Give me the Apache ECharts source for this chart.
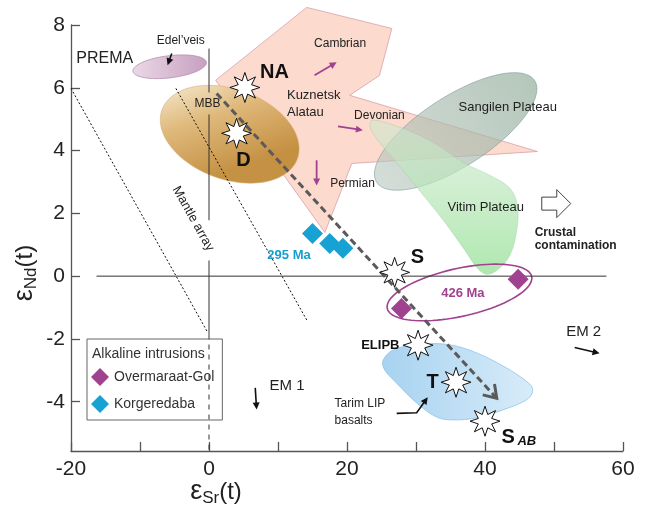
<!DOCTYPE html>
<html><head><meta charset="utf-8">
<script src="https://cdn.jsdelivr.net/npm/echarts@6/dist/echarts.min.js"></script>
<style>html,body{margin:0;padding:0;background:#fff}#c{width:648px;height:515px}</style>
</head><body><div id="c"></div>
<script>
// ---------- data ----------
const xTickValues = [-20, -10, 0, 10, 20, 30, 40, 50, 60];
const xLabelValues = [-20, 0, 20, 40, 60];
const yTickValues = [-4, -2, 0, 2, 4, 6, 8];

const overmaraatGol = [[27.9, -1.03], [44.8, -0.10]];
const korgeredaba = [[15.0, 1.36], [17.5, 1.04], [19.4, 0.89]];

// NA, D, S, ELIPB, T, S_AB
const starPoints = [[5.2, 6.01], [4.0, 4.55], [26.9, 0.12], [30.3, -2.20], [35.8, -3.38], [40.0, -4.62]];

const kuznetskAlatau = [[0.97, 6.24], [14.16, 8.56], [26.5, 7.89], [24.7, 6.39], [20.4, 5.76], [47.6, 3.97], [20.7, 3.59], [16.8, 1.39]];
const vitimPlateau = [[23.6, 4.96], [26.9, 4.80], [32.0, 4.32], [37.1, 3.59], [40.7, 3.21], [43.6, 2.80], [44.7, 2.26], [44.6, 1.46], [43.6, 0.66], [41.7, 0.18], [40.2, 0.06], [38.9, 0.25], [37.1, 0.82], [34.2, 1.71], [30.5, 2.73], [26.9, 3.69], [24.5, 4.32], [23.4, 4.71]];
const tarimLIP = [[25.2, -2.70], [26.6, -2.36], [29.5, -2.20], [33.9, -2.16], [37.8, -2.36], [42.6, -2.86], [46.5, -3.44], [46.9, -3.68], [46.0, -3.94], [42.6, -4.26], [38.8, -4.51], [35.3, -4.58], [33.0, -4.49], [30.1, -4.04], [27.2, -3.41], [25.5, -3.00]];

// ellipses: centre x, y, half-major vector, half-minor vector (data units)
const mbbEllipse = [3.0, 4.52, 9.81, -0.78, -2.23, -1.35];
const edelveisEllipse = [-5.7, 6.67, 5.32, 0.143, 0.19, -0.35];
const sangilenEllipse = [35.75, 4.61, 11.45, 1.62, 2.75, -0.94];
const ma426Ellipse = [36.3, -0.52, 10.46, 0.51, 0.75, -0.745];

const zeroLineH = [[-16.3, 0], [57.6, 0]];
const zeroLineV1 = [[0, 7.25], [0, 5.85]];
const zeroLineV2 = [[0, 5.15], [0, 1.78]];
const zeroLineV3 = [[0, 0.5], [0, -1.86]];
const zeroLineVDashed = [[0, -1.86], [0, -5.57]];
const mantleLine1 = [[-20, 5.98], [-0.2, -1.79]];
const mantleLine2 = [[-4.8, 5.98], [14.2, -1.41]];
const trendArrow = [[[1.1, 5.82], [41.7, -3.89]]];

const purpleArrows = [[[15.3, 6.4], [18.5, 6.81]], [[18.7, 4.77], [22.3, 4.65]], [[15.6, 3.69], [15.6, 2.89]]];
const blackArrows = [[[6.7, -3.56], [6.9, -4.25]], [[53.0, -2.27], [56.6, -2.46]], [[-5.4, 7.09], [-6.0, 6.72]], [[27.2, -4.37], [30.1, -4.35], [31.7, -3.86]]];
const crustalArrow = [[50.4, 2.31]];

// labels: x, y, text, style key
const labels = [
  [-15.1, 6.94, 'PREMA', 'prema'],
  [-4.1, 7.51, 'Edel\u2019veis', 'small'],
  [-0.2, 5.50, 'MBB', 'small'],
  [9.5, 6.49, 'NA', 'bigBold'],
  [5.0, 3.69, 'D', 'bigBold'],
  [11.3, 5.76, 'Kuznetsk', 'midLeft'],
  [11.3, 5.22, 'Alatau', 'midLeft'],
  [19.0, 7.41, 'Cambrian', 'small'],
  [24.7, 5.12, 'Devonian', 'small'],
  [20.8, 2.96, 'Permian', 'small'],
  [43.3, 5.38, 'Sangilen Plateau', 'mid'],
  [40.1, 2.19, 'Vitim Plateau', 'mid'],
  [47.2, 1.40, 'Crustal', 'boldLeft'],
  [47.2, 0.98, 'contamination', 'boldLeft'],
  [11.6, 0.66, '295 Ma', 'cyan'],
  [30.2, 0.60, 'S', 'bigBold'],
  [36.8, -0.55, '426 Ma', 'purple'],
  [27.6, -2.20, 'ELIPB', 'boldRight'],
  [32.4, -3.38, 'T', 'bigBold'],
  [18.2, -4.06, 'Tarim LIP', 'smallLeft'],
  [18.2, -4.60, 'basalts', 'smallLeft'],
  [42.4, -5.13, 'S', 'bigBoldLeft'],
  [44.7, -5.28, 'AB', 'subLeft'],
  [54.3, -1.79, 'EM 2', 'em'],
  [11.3, -3.48, 'EM 1', 'em'],
  [-2.3, 1.83, 'Mantle array', 'mantle']
];

// ---------- styles ----------
const FONT = 'Arial, "Liberation Sans", Helvetica, sans-serif';
const labelStyles = {
  prema: {fontSize: 16, color: '#222'},
  small: {fontSize: 12, color: '#222'},
  smallLeft: {fontSize: 12, color: '#222', align: 'left'},
  mid: {fontSize: 13, color: '#222'},
  midLeft: {fontSize: 13, color: '#222', align: 'left'},
  bigBold: {fontSize: 20, color: '#111', fontWeight: 'bold'},
  bigBoldLeft: {fontSize: 20, color: '#111', fontWeight: 'bold', align: 'left'},
  subLeft: {fontSize: 13, color: '#111', fontWeight: 'bold', fontStyle: 'italic', align: 'left'},
  boldLeft: {fontSize: 12, color: '#222', fontWeight: 'bold', align: 'left'},
  boldRight: {fontSize: 13, color: '#111', fontWeight: 'bold', align: 'right'},
  cyan: {fontSize: 13, color: '#139fd2', fontWeight: 'bold'},
  purple: {fontSize: 13, color: '#a0428f', fontWeight: 'bold'},
  em: {fontSize: 15, color: '#222'},
  mantle: {fontSize: 13, color: '#222', rotation: -1.06}
};

function starPath() {
  let d = '';
  for (let i = 0; i < 16; i++) {
    const a = -Math.PI / 2 + i * Math.PI / 8;
    const r = i % 2 === 0 ? 50 : 24;
    const x = (50 + r * Math.cos(a)).toFixed(2), y = (50 + r * Math.sin(a)).toFixed(2);
    d += (i === 0 ? 'M' : 'L') + x + ' ' + y + ' ';
  }
  return 'path://' + d + 'Z';
}

function polygonSeries(points, style, smooth, z) {
  return {
    type: 'custom', silent: true, z: z, clip: false, data: [points[0]],
    renderItem: (params, api) => ({
      type: 'polygon',
      shape: {points: points.map(p => api.coord(p)), smooth: smooth},
      style: style
    })
  };
}

function ellipseSeries(e, style, z) {
  return {
    type: 'custom', silent: true, z: z, clip: false, data: [[e[0], e[1]]],
    renderItem: (params, api) => {
      const pts = [];
      for (let i = 0; i < 90; i++) {
        const t = i / 90 * Math.PI * 2;
        pts.push(api.coord([e[0] + e[2] * Math.cos(t) + e[4] * Math.sin(t), e[1] + e[3] * Math.cos(t) + e[5] * Math.sin(t)]));
      }
      return {type: 'polygon', shape: {points: pts}, style: style};
    }
  };
}

function lineSeries(data, style, z) {
  return {type: 'line', data: data, symbol: 'none', silent: true, z: z, lineStyle: style, animation: false};
}

function arrowSeries(list, opts, z) {
  return {
    type: 'custom', silent: true, z: z, clip: false, data: list.map(l => l[0]),
    renderItem: (params, api) => {
      const pts = list[params.dataIndex].map(p => api.coord(p));
      const n = pts.length, a = pts[n - 2], b = pts[n - 1];
      const dx = b[0] - a[0], dy = b[1] - a[1], L = Math.hypot(dx, dy);
      const ux = dx / L, uy = dy / L;
      const base = [b[0] - ux * opts.head, b[1] - uy * opts.head];
      const left = [base[0] - uy * opts.headW, base[1] + ux * opts.headW];
      const right = [base[0] + uy * opts.headW, base[1] - ux * opts.headW];
      const shaft = pts.slice(0, n - 1).concat([opts.filled ? [b[0] - ux * opts.head * 0.7, b[1] - uy * opts.head * 0.7] : b]);
      const children = [{
        type: 'polyline', shape: {points: shaft},
        style: {stroke: opts.color, lineWidth: opts.width, lineDash: opts.dash || null, fill: null}
      }];
      if (opts.filled) {
        children.push({type: 'polygon', shape: {points: [b, left, right]}, style: {fill: opts.color}});
      } else {
        children.push({type: 'polyline', shape: {points: [left, b, right]}, style: {stroke: opts.color, lineWidth: opts.width, fill: null}});
      }
      return {type: 'group', children: children};
    }
  };
}

const chart = echarts.init(document.getElementById('c'), null, {renderer: 'canvas'});

const option = {
  backgroundColor: '#fff',
  animation: false,
  textStyle: {fontFamily: FONT},
  grid: {left: 71, right: 25, top: 25, bottom: 64, containLabel: false},
  xAxis: {
    type: 'value', min: -20, max: 60, interval: 10,
    axisLine: {show: true, onZero: false, lineStyle: {color: '#555', width: 1.3}},
    axisTick: {show: true, inside: true, length: 9, customValues: xTickValues, lineStyle: {color: '#555', width: 1.3}},
    axisLabel: {customValues: xLabelValues, fontSize: 21, color: '#222', margin: 8, fontFamily: FONT},
    splitLine: {show: false}
  },
  yAxis: {
    type: 'value', min: -5.57, max: 8,
    axisLine: {show: true, onZero: false, lineStyle: {color: '#555', width: 1.3}},
    axisTick: {show: true, inside: true, length: 9, customValues: yTickValues, lineStyle: {color: '#555', width: 1.3}},
    axisLabel: {customValues: yTickValues, fontSize: 21, color: '#222', margin: 6, fontFamily: FONT},
    splitLine: {show: false}
  },
  legend: {
    left: 87, top: 339, orient: 'vertical',
    itemWidth: 18, itemHeight: 18, itemGap: 9,
    padding: [29, 8, 7, 4],
    borderColor: '#666', borderWidth: 1,
    textStyle: {fontSize: 14, color: '#333', fontFamily: FONT},
    data: ['Overmaraat-Gol', 'Korgeredaba']
  },
  graphic: [
    {type: 'text', left: 92, top: 347, style: {text: 'Alkaline intrusions', fontSize: 14, fill: '#333', fontFamily: FONT}},
    {type: 'text', x: 25, y: 273, rotation: Math.PI / 2,
      style: {text: '{e|\u03b5}{s|Nd}{t|(t)}', align: 'center', verticalAlign: 'middle', fill: '#222', fontFamily: FONT,
        rich: {e: {fontSize: 27, fontFamily: FONT}, s: {fontSize: 17, padding: [12, 0, 0, 0], fontFamily: FONT}, t: {fontSize: 24, fontFamily: FONT}}}},
    {type: 'text', x: 216, y: 492,
      style: {text: '{e|\u03b5}{s|Sr}{t|(t)}', align: 'center', verticalAlign: 'middle', fill: '#222', fontFamily: FONT,
        rich: {e: {fontSize: 27, fontFamily: FONT}, s: {fontSize: 17, padding: [12, 0, 0, 0], fontFamily: FONT}, t: {fontSize: 24, fontFamily: FONT}}}}
  ],
  series: [
    polygonSeries(kuznetskAlatau, {fill: 'rgba(251,208,192,0.78)', stroke: '#d9a0aa', lineWidth: 0.8}, 0, 1),
    ellipseSeries(sangilenEllipse, {
      fill: new echarts.graphic.LinearGradient(1, 0, 0, 1, [{offset: 0, color: 'rgba(150,175,158,0.72)'}, {offset: 1, color: 'rgba(185,200,192,0.6)'}]),
      stroke: 'rgba(120,150,150,0.7)', lineWidth: 0.8}, 1),
    polygonSeries(vitimPlateau, {
      fill: new echarts.graphic.LinearGradient(0, 0, 0, 1, [{offset: 0, color: 'rgba(205,232,205,0.55)'}, {offset: 1, color: 'rgba(160,228,160,0.85)'}]),
      stroke: 'rgba(150,200,150,0.6)', lineWidth: 0.6}, 0.35, 1),
    ellipseSeries(mbbEllipse, {
      fill: new echarts.graphic.LinearGradient(0, 0, 0.25, 1, [{offset: 0, color: '#f6e8cc'}, {offset: 0.45, color: '#ddb574'}, {offset: 1, color: '#c28c3a'}]),
      stroke: '#d3ad78', lineWidth: 0.6, opacity: 0.95}, 1),
    ellipseSeries(edelveisEllipse, {
      fill: new echarts.graphic.LinearGradient(0, 0, 1, 0, [{offset: 0, color: '#ead8e6'}, {offset: 1, color: '#c7a0c0'}]),
      stroke: '#b88aad', lineWidth: 0.8}, 1),
    polygonSeries(tarimLIP, {
      fill: new echarts.graphic.LinearGradient(0, 0, 1, 0, [{offset: 0, color: '#a7d2f0'}, {offset: 1, color: '#d8ecf9'}]),
      stroke: '#8dc4ea', lineWidth: 0.8}, 0.35, 1),
    ellipseSeries(ma426Ellipse, {fill: null, stroke: '#a0428f', lineWidth: 1.6}, 3),

    lineSeries(zeroLineH, {color: '#333', width: 1}, 3),
    lineSeries(zeroLineV1, {color: '#333', width: 1}, 3),
    lineSeries(zeroLineV2, {color: '#333', width: 1}, 3),
    lineSeries(zeroLineV3, {color: '#333', width: 1}, 3),
    lineSeries(zeroLineVDashed, {color: '#333', width: 1, type: [5, 5]}, 3),
    lineSeries(mantleLine1, {color: '#111', width: 1, type: [2, 2]}, 3),
    lineSeries(mantleLine2, {color: '#111', width: 1, type: [2, 2]}, 3),

    arrowSeries(trendArrow, {color: '#5a5a5a', width: 3, dash: [7, 4], head: 12, headW: 8, filled: false}, 4),
    arrowSeries(purpleArrows, {color: '#a0428f', width: 1.8, head: 7, headW: 3.5, filled: true}, 4),
    arrowSeries(blackArrows, {color: '#111', width: 1.6, head: 7, headW: 3.5, filled: true}, 4),
    {
      type: 'custom', silent: true, z: 4, data: crustalArrow,
      renderItem: (params, api) => {
        const c = api.coord(crustalArrow[0]);
        const o = [[-15, -6.5], [0, -6.5], [0, -14], [14, 0], [0, 14], [0, 6.5], [-15, 6.5]];
        return {type: 'polygon', shape: {points: o.map(p => [c[0] + p[0], c[1] + p[1]])}, style: {fill: '#fff', stroke: '#444', lineWidth: 1}};
      }
    },

    {name: 'Overmaraat-Gol', type: 'scatter', data: overmaraatGol, symbol: 'diamond', symbolSize: 21, z: 5,
      itemStyle: {color: '#a0428f', opacity: 1}},
    {name: 'Korgeredaba', type: 'scatter', data: korgeredaba, symbol: 'diamond', symbolSize: 21, z: 5,
      itemStyle: {color: '#17a2d3', opacity: 1}},
    {type: 'scatter', data: starPoints, symbol: starPath(), symbolSize: 30, z: 6, silent: true,
      itemStyle: {color: '#fff', borderColor: '#111', borderWidth: 1, opacity: 1}},

    {
      type: 'custom', silent: true, z: 7, clip: false, data: labels.map(l => [l[0], l[1]]),
      renderItem: (params, api) => {
        const l = labels[params.dataIndex];
        const st = labelStyles[l[3]];
        const p = api.coord([l[0], l[1]]);
        return {
          type: 'text', x: p[0], y: p[1], rotation: st.rotation || 0,
          style: {text: l[2], fill: st.color, fontSize: st.fontSize, fontWeight: st.fontWeight || 'normal',
            fontStyle: st.fontStyle || 'normal', fontFamily: FONT, align: st.align || 'center', verticalAlign: 'middle'}
        };
      }
    }
  ]
};
chart.setOption(option);
</script></body></html>
